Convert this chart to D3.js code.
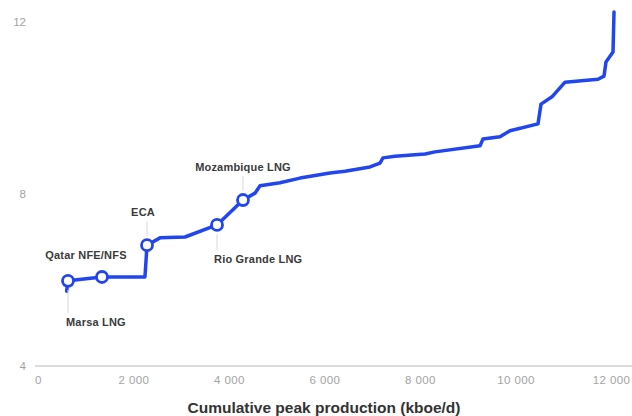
<!DOCTYPE html>
<html>
<head>
<meta charset="utf-8">
<script src="https://cdn.jsdelivr.net/npm/d3@7"></script>
<style>
  html, body { margin: 0; padding: 0; background: #fff; }
  svg { display: block; font-family: "Liberation Sans", Arial, sans-serif; }
</style>
</head>
<body>
<svg id="chart" width="632" height="416"></svg>
<script>
// Cost-supply curve: cumulative peak production (kboe/d) vs breakeven
const cumulativeProduction = [600, 628, 1340, 2240, 2283, 2555, 3079, 3749, 4293, 4545, 4650, 5068, 5487, 6115,
  6429, 6953, 7162, 7225, 7476, 8105, 8314, 9257, 9319, 9675, 9885, 10471, 10534, 10764, 11037, 11728, 11853,
  11895, 12042, 12063];
const breakeven = [5.74, 5.98, 6.07, 6.07, 6.81, 6.98, 7.0, 7.28, 7.86, 8.02, 8.19, 8.26, 8.37, 8.49,
  8.53, 8.63, 8.72, 8.84, 8.88, 8.93, 8.98, 9.12, 9.28, 9.33, 9.47, 9.63, 10.09, 10.26, 10.6, 10.67, 10.74,
  11.07, 11.3, 12.23];

// Highlighted projects
const projectNames = ["Marsa LNG", "Qatar NFE/NFS", "ECA", "Rio Grande LNG", "Mozambique LNG"];
const projectProduction = [628, 1340, 2283, 3749, 4293];
const projectBreakeven = [5.98, 6.07, 6.81, 7.28, 7.86];

// Axis ticks
const xTicks = [0, 2000, 4000, 6000, 8000, 10000, 12000];
const yTicks = [4, 8, 12];
const xTitle = "Cumulative peak production (kboe/d)";

// Label placement for each highlighted project: [dx, dy, anchor, leader]
const labelPlacement = [
  [-2, 41, "start", true],
  [-16, -22, "middle", false],
  [-4, -33, "middle", true],
  [-3, 34, "start", true],
  [0, -33, "middle", true]
];

const svg = d3.select("#chart");
const x = d3.scaleLinear().domain([0, 12000]).range([38, 611]);
const y = d3.scaleLinear().domain([4, 12]).range([366, 22]);
const fmt = v => d3.format(",")(v).replace(/,/g, " ");

// Baseline
svg.append("line")
  .attr("x1", 35).attr("x2", 632)
  .attr("y1", y(4)).attr("y2", y(4))
  .attr("stroke", "#d0d0d0").attr("stroke-width", 1.5);

// X axis tick labels
const xAxis = d3.axisBottom(x).tickValues(xTicks).tickFormat(fmt).tickSize(0).tickPadding(0);
const gx = svg.append("g").attr("transform", `translate(0, ${y(4) + 10})`).call(xAxis);
gx.select(".domain").remove();
gx.selectAll("text")
  .attr("fill", "#a3a3a3").attr("font-size", 11.5).attr("letter-spacing", 0.4)
  .attr("font-family", "Liberation Sans, Arial, sans-serif");

// Y axis tick labels
const yAxis = d3.axisLeft(y).tickValues(yTicks).tickSize(0).tickPadding(0);
const gy = svg.append("g").attr("transform", "translate(26, 0)").call(yAxis);
gy.select(".domain").remove();
gy.selectAll("text")
  .attr("fill", "#a3a3a3").attr("font-size", 11.5)
  .attr("font-family", "Liberation Sans, Arial, sans-serif");

// Axis title
svg.append("text")
  .attr("x", 324).attr("y", 413)
  .attr("text-anchor", "middle")
  .attr("font-size", 15.5).attr("font-weight", "bold")
  .attr("fill", "#333")
  .text(xTitle);

// Curve
const pts = cumulativeProduction.map((d, i) => [d, breakeven[i]]);
const line = d3.line().x(d => x(d[0])).y(d => y(d[1]));
svg.append("path")
  .datum(pts)
  .attr("d", line)
  .attr("fill", "none")
  .attr("stroke", "#2146f0")
  .attr("stroke-width", 3.5)
  .attr("stroke-linejoin", "round")
  .attr("stroke-linecap", "round");

// Leader lines and labels
projectNames.forEach((name, i) => {
  const cx = x(projectProduction[i]);
  const cy = y(projectBreakeven[i]);
  const [dx, dy, anchor, leader] = labelPlacement[i];
  if (leader) {
    const dir = Math.sign(dy);
    svg.append("line")
      .attr("x1", cx).attr("x2", cx)
      .attr("y1", cy + dir * 9).attr("y2", cy + dy - dir * 9)
      .attr("stroke", "#d8d8d8").attr("stroke-width", 1);
  }
  svg.append("text")
    .attr("x", cx + dx).attr("y", cy + dy)
    .attr("dy", "0.35em")
    .attr("text-anchor", anchor)
    .attr("font-size", 11).attr("font-weight", "bold")
    .attr("letter-spacing", 0.2)
    .attr("fill", "#3a3a3a")
    .text(name);
});

// Project markers
svg.selectAll("circle.project")
  .data(projectProduction.map((d, i) => [d, projectBreakeven[i]]))
  .join("circle")
  .attr("class", "project")
  .attr("cx", d => x(d[0]))
  .attr("cy", d => y(d[1]))
  .attr("r", 5.5)
  .attr("fill", "#fff")
  .attr("stroke", "#2146f0")
  .attr("stroke-width", 2.8);
</script>
</body>
</html>
